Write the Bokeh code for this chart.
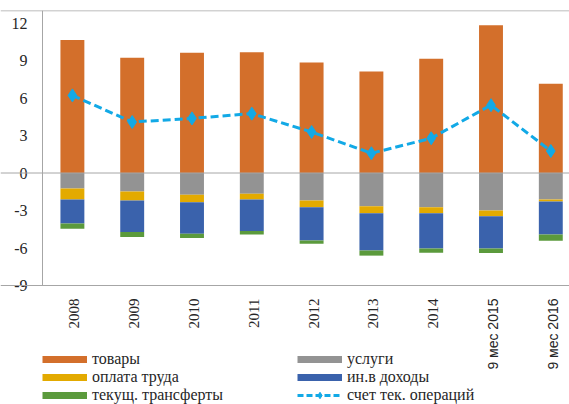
import math
from bokeh.plotting import figure
from bokeh.models import ColumnDataSource, Span, Legend, LegendItem, Range1d
from bokeh.core.properties import value
from bokeh.embed import file_html
from bokeh.resources import INLINE

categories = ["2008", "2009", "2010", "2011", "2012", "2013", "2014", "9 мес 2015", "9 мес 2016"]
goods = [10.65, 9.22, 9.62, 9.67, 8.84, 8.12, 9.14, 11.82, 7.14]
services = [-1.24, -1.48, -1.74, -1.66, -2.19, -2.65, -2.73, -2.99, -2.11]
wages = [-0.87, -0.71, -0.59, -0.45, -0.54, -0.56, -0.48, -0.46, -0.16]
income = [-1.92, -2.53, -2.52, -2.53, -2.66, -2.98, -2.82, -2.58, -2.64]
transfers = [-0.43, -0.40, -0.35, -0.27, -0.26, -0.42, -0.34, -0.37, -0.50]
current_account = [6.21, 4.08, 4.37, 4.75, 3.28, 1.58, 2.78, 5.43, 1.76]
y_ticks = [-9, -6, -3, 0, 3, 6, 9, 12]
y_min, y_max = -9, 13

names = ["товары", "услуги", "оплата труда", "ин.в доходы", "текущ. трансферты", "счет тек. операций"]
colors = ["#D36F2B", "#939393", "#E3AA00", "#3A62AC", "#5B9A3C", "#12A9E6"]
SERIF = "Liberation Serif"
SANS = "Liberation Sans"
GRID = "#A6A6A6"
TXT = "#262626"

x = list(range(len(categories)))
x_left = -0.5
src = ColumnDataSource(dict(x=x, goods=goods, services=services, wages=wages,
                            income=income, transfers=transfers, ca=current_account))

# year labels are set in a serif face, the "9 мес" labels in a sans face (as in the original)
yr_idx = [i for i, c in enumerate(categories) if " " not in c]
pr_idx = [i for i, c in enumerate(categories) if " " in c]
yr_src = ColumnDataSource(dict(x=[x[i] for i in yr_idx], t=[categories[i] for i in yr_idx],
                               y=[y_min] * len(yr_idx)))
pr_src = ColumnDataSource(dict(x=[x[i] for i in pr_idx], t=[categories[i] for i in pr_idx],
                               y=[y_min] * len(pr_idx)))
tick_src = ColumnDataSource(dict(y=y_ticks, t=[str(v) for v in y_ticks], x=[x_left] * len(y_ticks)))

# the frame fills the whole figure so that axis texts and legend can live inside it
W, H, TOP = 569, 404, 10
LEFT_PAD = 42        # pixels left of the first category slot
PX_X = 59.8          # pixels per category
PX_Y = 12.5          # pixels per unit
p = figure(width=W, height=H, output_backend="svg", toolbar_location=None,
           x_range=Range1d(x_left - LEFT_PAD / PX_X, x_left + (W - LEFT_PAD) / PX_X),
           y_range=Range1d(y_max - (H - TOP) / PX_Y, y_max),
           min_border_left=0, min_border_right=0, min_border_top=TOP, min_border_bottom=0)
p.outline_line_color = None
p.xgrid.visible = False
p.ygrid.visible = False
p.xaxis.visible = False
p.yaxis.visible = False

p.vbar(x="x", top="goods", bottom=0, width=0.4, source=src, fill_color=colors[0], line_color=None)
p.vbar_stack(["services", "wages", "income", "transfers"], x="x", width=0.4, source=src,
             fill_color=colors[1:5], line_color=None)

# frame lines: zero line, top, bottom and left border
p.add_layout(Span(location=0, dimension="width", line_color=GRID, line_width=1))
p.add_layout(Span(location=y_max, dimension="width", line_color=GRID, line_width=1.5))
p.add_layout(Span(location=y_min, dimension="width", line_color=GRID, line_width=1))
p.segment(x0=[x_left], y0=[y_min], x1=[x_left], y1=[y_max], line_color=GRID, line_width=1)

p.line("x", "ca", source=src, line_color=colors[5], line_width=3, line_dash="8 4")
p.scatter("x", "ca", source=src, marker="diamond", size=13, fill_color=colors[5], line_color=colors[5])

# category labels (vertical, reading bottom to top)
p.text(x="x", y="y", text="t", source=yr_src, angle=math.pi / 2, y_offset=13, x_offset=2,
       text_align="right", text_baseline="middle",
       text_font=value(SERIF), text_font_size="15px", text_color=TXT)
p.text(x="x", y="y", text="t", source=pr_src, angle=math.pi / 2, y_offset=13, x_offset=2,
       text_align="right", text_baseline="middle",
       text_font=value(SANS), text_font_size="14px", text_color=TXT)

# value labels on the left
p.text(x="x", y="y", text="t", source=tick_src, x_offset=-15,
       text_align="right", text_baseline="middle",
       text_font=value(SERIF), text_font_size="16px", text_color=TXT)

# legend proxies (one NaN point each, so nothing shows in the plot)
nan = float("nan")
proxies = [p.line([nan], [nan], line_color=c, line_width=7) for c in colors[:5]]
leg_line = p.line([nan], [nan], line_color=colors[5], line_width=3, line_dash="6 3")
leg_pt = p.scatter([nan], [nan], marker="diamond", size=11, fill_color=colors[5], line_color=colors[5])

def make_legend(items, xoff):
    return Legend(items=items, location=(xoff, 0), orientation="vertical",
                  glyph_width=45, glyph_height=16, label_height=16, spacing=0,
                  label_standoff=5, padding=0, margin=0,
                  border_line_color=None, background_fill_alpha=0,
                  label_text_font=SERIF, label_text_font_size="16px",
                  label_text_color=TXT)

leg1 = make_legend([LegendItem(label=names[0], renderers=[proxies[0]]),
                    LegendItem(label=names[2], renderers=[proxies[2]]),
                    LegendItem(label=names[4], renderers=[proxies[4]])], 42)
leg2 = make_legend([LegendItem(label=names[1], renderers=[proxies[1]]),
                    LegendItem(label=names[3], renderers=[proxies[3]]),
                    LegendItem(label=names[5], renderers=[leg_line, leg_pt])], 297)
p.add_layout(leg1, "center")
p.add_layout(leg2, "center")

open("out.html", "w").write(file_html(p, INLINE))
